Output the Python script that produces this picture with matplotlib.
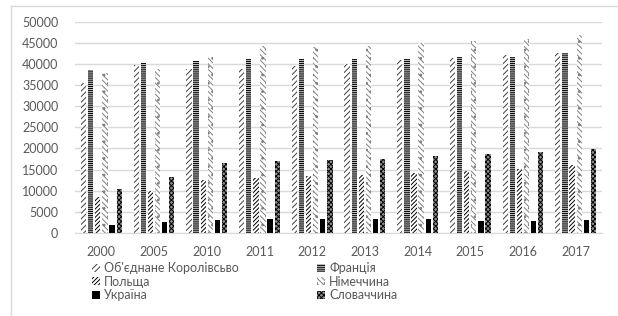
import matplotlib.pyplot as plt
import numpy as np
from matplotlib.lines import Line2D

years = ['2000', '2005', '2010', '2011', '2012', '2013', '2014', '2015', '2016', '2017']
countries = ['Об\'єднане Королівсьво', 'Франція', 'Польща', 'Німеччина', 'Україна', 'Словаччина']

uk = [35500, 39700, 38900, 38900, 39500, 40100, 40900, 41500, 42100, 42700]
france = [38500, 40300, 40700, 41200, 41200, 41200, 41200, 41700, 41700, 42700]
poland = [8500, 10000, 12500, 13100, 13400, 13700, 14200, 14700, 15200, 16000]
germany = [37900, 38900, 41700, 44200, 44100, 44200, 45000, 45500, 46000, 46800]
ukraine = [1800, 2600, 3000, 3200, 3200, 3200, 3200, 2800, 2800, 3000]
slovakia = [10300, 13300, 16600, 17100, 17200, 17600, 18200, 18600, 19200, 19900]

series = [uk, france, poland, germany, ukraine, slovakia]
styles = [
    dict(facecolor='white', edgecolor='#404040', hatch='//////'),
    dict(facecolor='#bfbfbf', edgecolor='black', hatch='--------'),
    dict(facecolor='white', edgecolor='black', hatch='////////'),
    dict(facecolor='white', edgecolor='#808080', hatch='\\\\\\\\\\\\..'),
    dict(facecolor='black', edgecolor='black', hatch=None),
    dict(facecolor='#909090', edgecolor='black', hatch='xxxxxxx'),
]

plt.rcParams['font.family'] = ['Lato', 'DejaVu Sans']
plt.rcParams['hatch.linewidth'] = 0.7

fig = plt.figure(figsize=(6.18, 3.16), dpi=100)
ax = fig.add_axes([75 / 618, 1 - 233 / 316, 527 / 618, (233 - 21.7) / 316])

x = np.arange(len(years))
pitch = 0.135
width = 0.1
bars = []
for i, (vals, st) in enumerate(zip(series, styles)):
    b = ax.bar(x + (i - 2.5) * pitch, vals, width, linewidth=0, label=countries[i], **st)
    bars.append(b)

ax.set_xlim(-0.5, 9.5)
ax.set_ylim(0, 50000)
ax.set_yticks(range(0, 50001, 5000))
ax.set_xticks(x)
ax.set_xticklabels(years)
ax.yaxis.grid(True, color='#d9d9d9', linewidth=1)
ax.set_axisbelow(True)
for s in ['top', 'right', 'left']:
    ax.spines[s].set_visible(False)
ax.spines['bottom'].set_color('#d9d9d9')
ax.tick_params(length=0, labelsize=9, labelcolor='#595959')
ax.tick_params(axis='x', pad=9)
ax.tick_params(axis='y', pad=12)

# legend (Excel fills row by row)
order = [0, 2, 4, 1, 3, 5]
leg = fig.legend([bars[i] for i in order], [countries[i] for i in order],
                 ncol=2, loc='upper left', bbox_to_anchor=(92 / 618, 1 - 262 / 316),
                 frameon=False, fontsize=9, handlelength=0.6, handleheight=0.6,
                 handletextpad=0.35, columnspacing=6.3, labelspacing=0.12,
                 borderaxespad=0, borderpad=0)
for t in leg.get_texts():
    t.set_color('#595959')

# chart border
fig.add_artist(Line2D([11 / 618, 1], [1 - 6 / 316, 1 - 6 / 316], color='#d9d9d9', lw=1))
fig.add_artist(Line2D([11 / 618, 11 / 618], [0, 1 - 6 / 316], color='#d9d9d9', lw=1))

fig.savefig('out.png', dpi=100)
